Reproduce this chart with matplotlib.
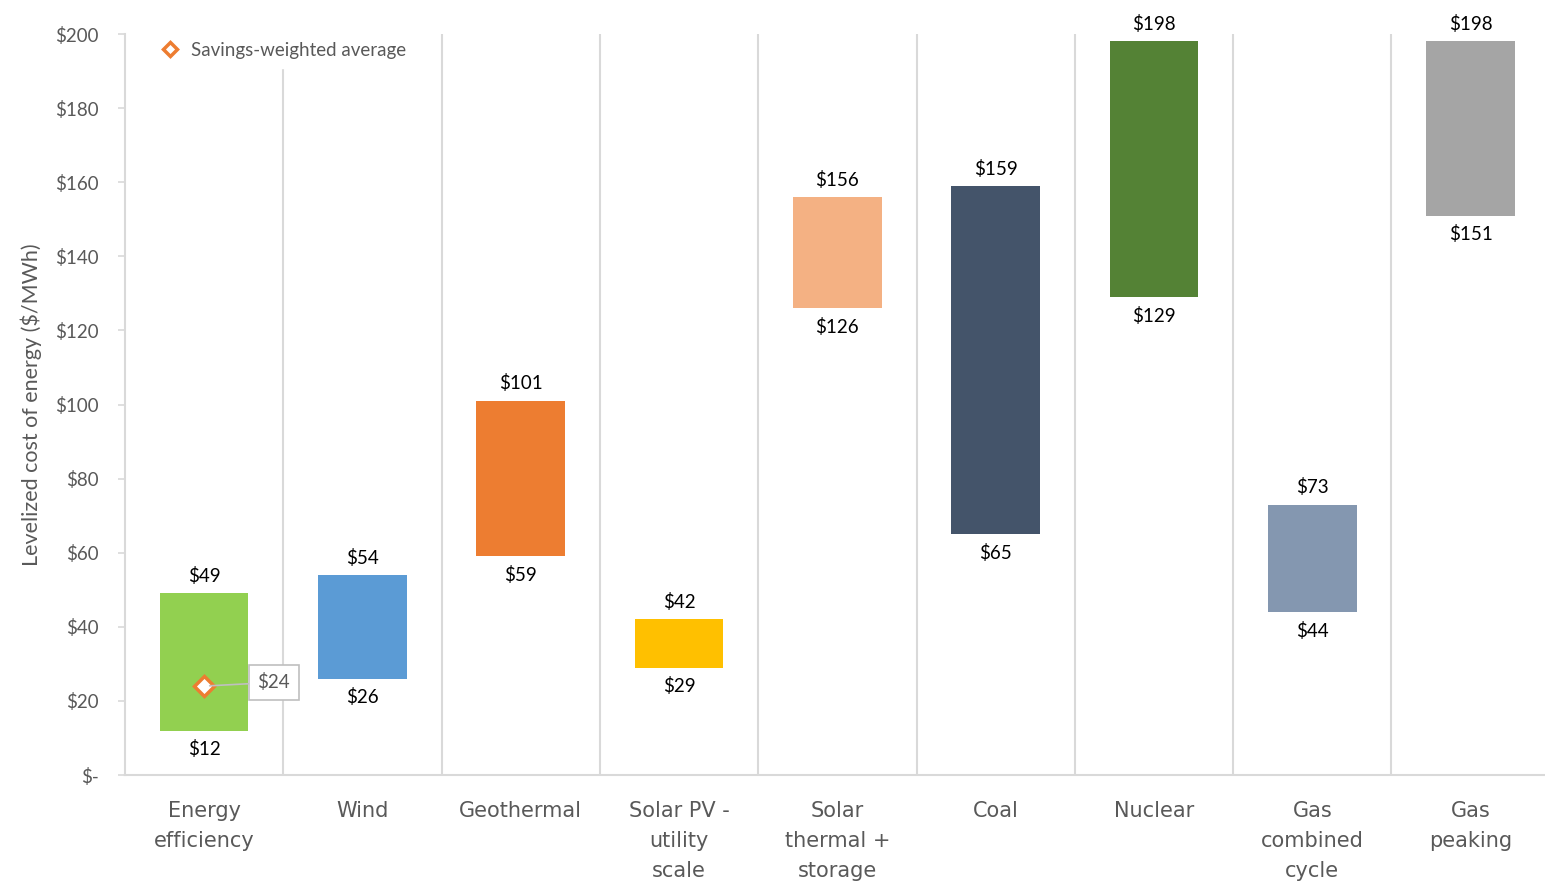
import numpy as np
import matplotlib
matplotlib.use("Agg")
import matplotlib.pyplot as plt

# data
categories = ["Energy\nefficiency", "Wind", "Geothermal", "Solar PV -\nutility\nscale",
              "Solar\nthermal +\nstorage", "Coal", "Nuclear", "Gas\ncombined\ncycle", "Gas\npeaking"]
low = [12, 26, 59, 29, 126, 65, 129, 44, 151]
high = [49, 54, 101, 42, 156, 159, 198, 73, 198]
colors = ["#92D050", "#5B9BD5", "#ED7D31", "#FFC000", "#F4B183",
          "#44546A", "#548235", "#8497B0", "#A5A5A5"]
avg_value = 24
avg_index = 0
yticks = [0, 20, 40, 60, 80, 100, 120, 140, 160, 180, 200]

plt.rcParams["font.family"] = ["Lato", "DejaVu Sans"]
grey = "#595959"
line_grey = "#D9D9D9"

fig = plt.figure(figsize=(15.45, 8.82), dpi=100)
ax = fig.add_axes([0.0809, 0.1213, 0.9191, 0.8401])

x = np.arange(len(categories))
heights = [h - l for l, h in zip(low, high)]
ax.bar(x, heights, bottom=low, width=0.56, color=colors, zorder=3)

# category separators
ax.vlines(x[:-1] + 0.5, 0, 200, color=line_grey, lw=1.5, zorder=1)

for xi, l, h in zip(x, low, high):
    ax.annotate(f"${h}", (xi, h), xytext=(0, 6), textcoords="offset points",
                ha="center", va="bottom", fontsize=13.5, color="black")
    ax.annotate(f"${l}", (xi, l), xytext=(0, -7), textcoords="offset points",
                ha="center", va="top", fontsize=13.5, color="black")

# savings-weighted average marker and callout
ax.plot([avg_index], [avg_value], marker="D", ms=10, mfc="white", mec="#ED7D31",
        mew=2.5, ls="none", zorder=5, label="Savings-weighted average")
ax.annotate(f"${avg_value}", (avg_index, avg_value), xytext=(avg_index + 0.44, avg_value + 1),
            textcoords="data", ha="center", va="center", fontsize=13.5, color=grey,
            bbox=dict(boxstyle="square,pad=0.45", fc="white", ec="#BFBFBF", lw=1.2),
            arrowprops=dict(arrowstyle="-", color="#BFBFBF", lw=1.2,
                            shrinkA=0, shrinkB=4), zorder=6)

ax.set_xlim(-0.5, len(categories) - 0.53)
ax.set_ylim(0, 200)
ax.set_yticks(yticks)
ax.set_yticklabels(["$-" if v == 0 else f"${v}" for v in yticks])
ax.set_xticks(x)
ax.set_xticklabels(categories)
for lab in ax.get_xticklabels():
    lab.set_fontfamily("DejaVu Sans")
    lab.set_fontsize(15)
    lab.set_color(grey)
    lab.set_linespacing(1.62)
ax.tick_params(axis="x", length=0, pad=19)
ax.tick_params(axis="y", length=5, width=1.2, color=line_grey, labelsize=13.5,
               labelcolor=grey, pad=14)

for side in ["top", "right"]:
    ax.spines[side].set_visible(False)
ax.spines["left"].set_color(line_grey)
ax.spines["bottom"].set_color(line_grey)
ax.spines["left"].set_linewidth(1.5)
ax.spines["bottom"].set_linewidth(1.5)

ax.set_ylabel("Levelized cost of energy ($/MWh)", fontsize=15.5, color=grey, labelpad=9)

leg = ax.legend(loc="upper left", bbox_to_anchor=(0.005, 1.015), frameon=True,
                fontsize=13.5, handletextpad=0.15, borderpad=0.5, markerscale=0.75)
leg.get_frame().set_edgecolor("white")
leg.get_frame().set_alpha(1)
for t in leg.get_texts():
    t.set_color(grey)
leg.set_zorder(7)

fig.savefig("out.png", dpi=100)
